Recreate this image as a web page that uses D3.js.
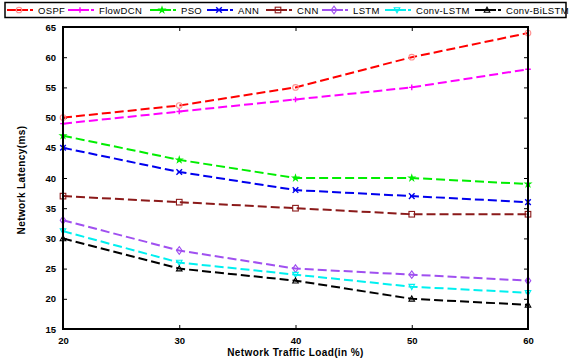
<!DOCTYPE html>
<html><head><meta charset="utf-8">
<script src="https://cdn.jsdelivr.net/npm/d3@7"></script>
<style>body{margin:0;background:#fff}svg{display:block}text{font-family:"Liberation Sans",Arial,sans-serif}</style>
</head><body><svg id="c" width="573" height="362"></svg>
<script>
const xValues = [20, 30, 40, 50, 60];
const xTickLabels = ["20", "30", "40", "50", "60"];
const yTicks = [15, 20, 25, 30, 35, 40, 45, 50, 55, 60, 65];
const seriesNames = ["OSPF", "FlowDCN", "PSO", "ANN", "CNN", "LSTM", "Conv-LSTM", "Conv-BiLSTM"];
const ospf = [50, 52, 55, 60, 64];
const flowDCN = [49, 51, 53, 55, 58];
const pso = [47, 43, 40, 40, 39];
const ann = [45, 41, 38, 37, 36];
const cnn = [37, 36, 35, 34, 34];
const lstm = [33, 28, 25, 24, 23];
const convLSTM = [31.2, 26, 24, 22, 21];
const convBiLSTM = [30, 25, 23, 20, 19];
const seriesValues = [ospf, flowDCN, pso, ann, cnn, lstm, convLSTM, convBiLSTM];
const colors = ["#ff0000", "#ff00ff", "#00ee00", "#0000ee", "#8b1a1a", "#a050f0", "#00f0f0", "#000000"];
const markerColors = ["#ff9090", "#ff00ff", "#00ee00", "#0000ee", "#8b1a1a", "#a050f0", "#00f0f0", "#000000"];
const markerTypes = ["circle", "plus", "star", "x", "square", "diamond", "tridown", "triup"];
const legendX = [7, 68, 150, 207, 266, 322, 385, 475];

const svg = d3.select("#c");
const L = 63, R = 528, T = 27, B = 329;
const x = d3.scaleLinear().domain([20, 60]).range([L, R]);
const y = d3.scaleLinear().domain([15, 65]).range([B, T]);

function marker(g, type, cx, cy, col) {
  const s = 2.8;
  if (type === "circle") g.append("circle").attr("cx", cx).attr("cy", cy).attr("r", s).attr("fill", "none").attr("stroke", col).attr("stroke-width", 1.1);
  else if (type === "plus") g.append("path").attr("d", `M${cx-s},${cy}H${cx+s}M${cx},${cy-s}V${cy+s}`).attr("stroke", col).attr("stroke-width", 1.4);
  else if (type === "star") g.append("path").attr("d", d3.symbol(d3.symbolStar, 26)()).attr("transform", `translate(${cx},${cy})`).attr("fill", col);
  else if (type === "x") g.append("path").attr("d", `M${cx-s},${cy-s}L${cx+s},${cy+s}M${cx-s},${cy+s}L${cx+s},${cy-s}`).attr("stroke", col).attr("stroke-width", 1.4);
  else if (type === "square") g.append("rect").attr("x", cx-s).attr("y", cy-s).attr("width", 2*s).attr("height", 2*s).attr("fill", "none").attr("stroke", col).attr("stroke-width", 1.1);
  else if (type === "diamond") g.append("path").attr("d", `M${cx},${cy-s-1}L${cx+s},${cy}L${cx},${cy+s+1}L${cx-s},${cy}Z`).attr("fill", "none").attr("stroke", col).attr("stroke-width", 1.1);
  else if (type === "tridown") g.append("path").attr("d", `M${cx-s},${cy-s+0.5}L${cx+s},${cy-s+0.5}L${cx},${cy+s}Z`).attr("fill", "none").attr("stroke", col).attr("stroke-width", 1.1);
  else if (type === "triup") g.append("path").attr("d", `M${cx-s},${cy+s-0.5}L${cx+s},${cy+s-0.5}L${cx},${cy-s}Z`).attr("fill", "none").attr("stroke", col).attr("stroke-width", 1.1);
}

// axes ticks
const axL = d3.axisLeft(y).tickValues(yTicks).tickSize(-4).tickPadding(7).tickFormat(d3.format("d"));
const axR = d3.axisRight(y).tickValues(yTicks).tickSize(-4).tickFormat("");
const axB = d3.axisBottom(x).tickValues(xValues).tickSize(-4).tickPadding(8).tickFormat((d, i) => xTickLabels[i]);
const axT = d3.axisTop(x).tickValues(xValues).tickSize(-4).tickFormat("");
[[axL, `translate(${L},0)`], [axR, `translate(${R},0)`], [axB, `translate(0,${B})`], [axT, `translate(0,${T})`]].forEach(([a, t]) => {
  const g = svg.append("g").attr("transform", t).call(a);
  g.select(".domain").remove();
  g.selectAll(".tick line").attr("stroke", "#000").attr("stroke-width", 1);
  g.selectAll("text").attr("font-size", 9.5).attr("font-weight", "bold").attr("fill", "#000");
});

// series
const line = d3.line().x((d, i) => x(xValues[i])).y(d => y(d));
seriesValues.forEach((vals, k) => {
  svg.append("path").datum(vals).attr("d", line).attr("fill", "none").attr("stroke", colors[k]).attr("stroke-width", 2).attr("stroke-dasharray", "9,4");
  const g = svg.append("g");
  vals.forEach((v, i) => marker(g, markerTypes[k], x(xValues[i]), y(v), markerColors[k]));
});

// frame
svg.append("rect").attr("x", L).attr("y", T).attr("width", R - L).attr("height", B - T).attr("fill", "none").attr("stroke", "#000").attr("stroke-width", 2);

// axis titles
svg.append("text").attr("x", (L + R) / 2).attr("y", 356).attr("text-anchor", "middle").attr("font-size", 10).attr("font-weight", "bold").attr("letter-spacing", 0.4).text("Network Traffic Load(in %)");
svg.append("text").attr("transform", `translate(25,${(T + B) / 2 + 2}) rotate(-90)`).attr("text-anchor", "middle").attr("font-size", 10).attr("font-weight", "bold").attr("letter-spacing", 0.4).text("Network Latency(ms)");

// legend
const lg = svg.append("g");
lg.append("rect").attr("x", 5).attr("y", 2.5).attr("width", 561).attr("height", 15).attr("fill", "#fff").attr("stroke", "#000").attr("stroke-width", 1.5);
seriesNames.forEach((n, k) => {
  const lx = legendX[k], ly = 10;
  lg.append("line").attr("x1", lx).attr("x2", lx + 21).attr("y1", ly).attr("y2", ly).attr("stroke", colors[k]).attr("stroke-width", 2);
  lg.append("line").attr("x1", lx + 23).attr("x2", lx + 26).attr("y1", ly).attr("y2", ly).attr("stroke", colors[k]).attr("stroke-width", 2);
  marker(lg, markerTypes[k], lx + 12, ly, markerColors[k]);
  lg.append("text").attr("x", lx + 31).attr("y", ly + 3.5).attr("font-size", 9.5).attr("letter-spacing", 0.35).attr("fill", "#000").text(n);
});
</script></body></html>
